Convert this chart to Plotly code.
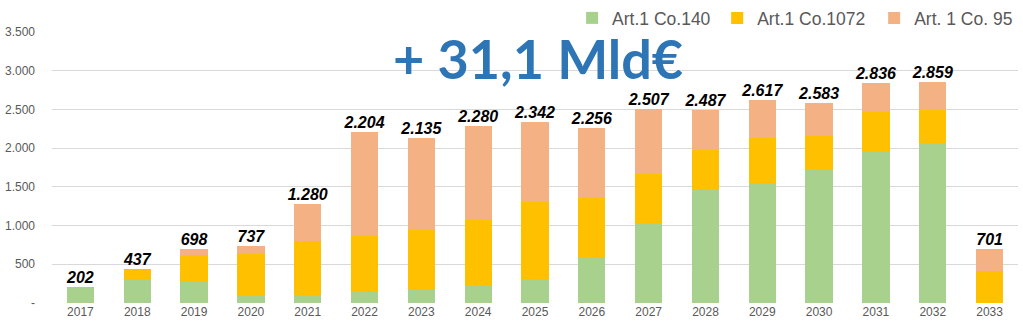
import plotly.graph_objects as go

years = ["2017", "2018", "2019", "2020", "2021", "2022", "2023", "2024", "2025",
         "2026", "2027", "2028", "2029", "2030", "2031", "2032", "2033"]
co140 = [202, 310, 280, 85, 107, 142, 176, 223, 314, 584, 1031, 1457, 1547, 1722, 1950, 2062, 0]
co1072 = [0, 127, 338, 545, 688, 717, 761, 847, 988, 766, 636, 520, 580, 438, 511, 425, 417]
co95 = [0, 0, 80, 107, 485, 1345, 1198, 1210, 1040, 906, 840, 510, 490, 423, 375, 372, 284]
totals = [202, 437, 698, 737, 1280, 2204, 2135, 2280, 2342, 2256, 2507, 2487, 2617, 2583, 2836, 2859, 701]
ytick_vals = [0, 500, 1000, 1500, 2000, 2500, 3000, 3500]
ytick_text = ["-", "500", "1.000", "1.500", "2.000", "2.500", "3.000", "3.500"]

series = [("Art.1 Co.140", co140, "#A9D18E", "legend"),
          ("Art.1 Co.1072", co1072, "#FFC000", "legend2"),
          ("Art. 1 Co. 95", co95, "#F4B183", "legend3")]

fig = go.Figure()
for name, vals, color, lg in series:
    fig.add_trace(go.Bar(x=years, y=vals, name=name, legend=lg,
                         marker=dict(color=color, line=dict(width=0))))

fig.add_trace(go.Scatter(
    x=years, y=totals, mode="text", text=[f"{v:,}".replace(",", ".") for v in totals],
    textposition="top center", showlegend=False, hoverinfo="skip",
    textfont=dict(family="Liberation Sans", size=16, color="black", weight="bold", style="italic"),
    cliponaxis=False))

fig.add_annotation(text="+ 31,1 Mld€", xref="paper", yref="paper", x=0.503, y=0.902,
                   xanchor="center", yanchor="middle", showarrow=False,
                   font=dict(family="Lato", size=54, color="#2E75B6", weight="bold"))

legend_style = dict(orientation="h", xanchor="left", y=1.0, yanchor="top", yref="container",
                    font=dict(family="Liberation Sans", size=17.5, color="#595959"),
                    bgcolor="rgba(0,0,0,0)")

fig.update_layout(
    width=1023, height=332,
    margin=dict(l=52, r=5, t=32, b=29, autoexpand=False),
    barmode="stack", bargap=0.52,
    plot_bgcolor="white", paper_bgcolor="white",
    separators=",.",
    legend=dict(x=0.5384, **legend_style),
    legend2=dict(x=0.6886, **legend_style),
    legend3=dict(x=0.8511, **legend_style),
    xaxis=dict(type="category", range=[-0.5, 16.5], showgrid=False, showline=False, ticks="",
               tickfont=dict(family="Liberation Sans", size=12, color="#595959")),
    yaxis=dict(range=[0, 3500], tickvals=ytick_vals, ticktext=ytick_text,
               showgrid=True, gridcolor="#D9D9D9", gridwidth=1, zeroline=False,
               showline=False, ticks="", ticklabelstandoff=16,
               tickfont=dict(family="Liberation Sans", size=12, color="#595959")),
)

fig.write_html("out.html")
